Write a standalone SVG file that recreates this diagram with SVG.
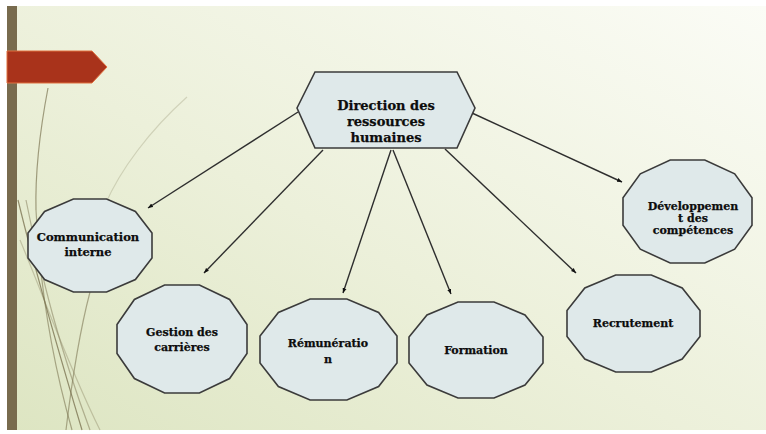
<svg xmlns="http://www.w3.org/2000/svg" width="766" height="434" viewBox="0 0 766 434">
<style>
.node{fill:#dfe9ea;stroke:#3b3b3b;stroke-width:1.6;stroke-linejoin:miter}
.lbl{font-family:"DejaVu Serif","Liberation Serif",serif;font-weight:bold;font-size:11.5px;fill:#0d0d0d;stroke:#0d0d0d;stroke-width:0.25;text-anchor:middle}
.big{font-size:13px}
.small{font-size:11px}
.conn{stroke:#2e2e2e;stroke-width:1.4;fill:none;marker-end:url(#ah)}
.deco{fill:none;stroke:#7d7654;stroke-width:1.2}
</style>
<defs>
<linearGradient id="bg" x1="0" y1="1" x2="1" y2="0">
<stop offset="0" stop-color="#dde5c2"/>
<stop offset="0.45" stop-color="#ecf0da"/>
<stop offset="1" stop-color="#fbfcf6"/>
</linearGradient>
<marker id="ah" markerUnits="userSpaceOnUse" markerWidth="6" markerHeight="6" refX="5" refY="2.5" orient="auto">
<path d="M0,0.5 L5,2.5 L0,4.5 z" fill="#111"/>
</marker>
</defs>
<rect x="0" y="0" width="766" height="434" fill="#ffffff"/>
<rect x="7" y="6" width="759" height="424" fill="url(#bg)"/>
<g id="decor">
<path class="deco" d="M48,88 C40,130 35,170 36,210" opacity="0.7"/>
<path class="deco" d="M187,97 C150,130 120,170 105,205" opacity="0.25"/>
<path class="deco" d="M18,200 C35,270 55,340 82,430" opacity="0.8"/>
<path class="deco" d="M26,200 C42,280 60,350 90,430" opacity="0.5"/>
<path class="deco" d="M36,210 C40,290 52,360 72,430" opacity="0.6"/>
<path class="deco" d="M90,292 C80,330 72,380 66,430" opacity="0.6"/>
<path class="deco" d="M20,240 C45,300 70,370 100,430" opacity="0.35"/>
</g>
<rect x="7" y="6" width="10" height="424" fill="#786b4e"/>
<polygon points="7,51 92,51 107,67 92,83 7,83" fill="#a9331b" stroke="#e0703f" stroke-width="1"/>
<g id="connectors">
<line class="conn" x1="298" y1="112" x2="148" y2="208"/>
<line class="conn" x1="323" y1="150" x2="204" y2="273"/>
<line class="conn" x1="391" y1="150" x2="343" y2="293"/>
<line class="conn" x1="393" y1="150" x2="451" y2="294"/>
<line class="conn" x1="445" y1="149" x2="576" y2="273"/>
<line class="conn" x1="472" y1="113" x2="622" y2="182"/>
</g>
<g id="drh">
<polygon class="node" points="297,108 315,72 457,72 475,108 457,148 315,148"/>
<text class="lbl big" x="386" y="110">Direction des</text>
<text class="lbl big" x="386" y="126">ressources</text>
<text class="lbl big" x="386" y="142">humaines</text>
</g>
<g id="communication">
<polygon class="node" points="152,233 135.4,211.5 106.6,199 73.4,199 44.6,211.5 28,233 28,258 44.6,279.5 73.4,292 106.6,292 135.4,279.5 152,258"/>
<text class="lbl" x="88" y="241">Communication</text>
<text class="lbl" x="88" y="256">interne</text>
</g>
<g id="gestion">
<polygon class="node" points="247,324.5 229.6,299.5 199.4,285 164.6,285 134.4,299.5 117,324.5 117,353.5 134.4,378.5 164.6,393 199.4,393 229.6,378.5 247,353.5"/>
<text class="lbl small" x="182" y="336">Gestion des</text>
<text class="lbl small" x="182" y="351">carrières</text>
</g>
<g id="remuneration">
<polygon class="node" points="397,336 378.6,312.5 346.9,299 310.1,299 278.4,312.5 260,336 260,363 278.4,386.5 310.1,400 346.9,400 378.6,386.5 397,363"/>
<text class="lbl small" x="328" y="347">Rémunératio</text>
<text class="lbl small" x="328" y="363">n</text>
</g>
<g id="formation">
<polygon class="node" points="543,337.1 525,314.9 494,302 458,302 427,314.9 409,337.1 409,362.9 427,385.1 458,398 494,398 525,385.1 543,362.9"/>
<text class="lbl small" x="476" y="354">Formation</text>
</g>
<g id="recrutement">
<polygon class="node" points="700,310.5 682.2,288 651.3,275 615.7,275 584.8,288 567,310.5 567,336.5 584.8,359 615.7,372 651.3,372 682.2,359 700,336.5"/>
<text class="lbl small" x="633" y="327">Recrutement</text>
</g>
<g id="developpement">
<polygon class="node" points="752,197.7 734.7,173.8 704.8,160 670.2,160 640.3,173.8 623,197.7 623,225.3 640.3,249.2 670.2,263 704.8,263 734.7,249.2 752,225.3"/>
<text class="lbl small" x="693" y="210">Développemen</text>
<text class="lbl small" x="693" y="222">t des</text>
<text class="lbl small" x="693" y="234">compétences</text>
</g>
</svg>
